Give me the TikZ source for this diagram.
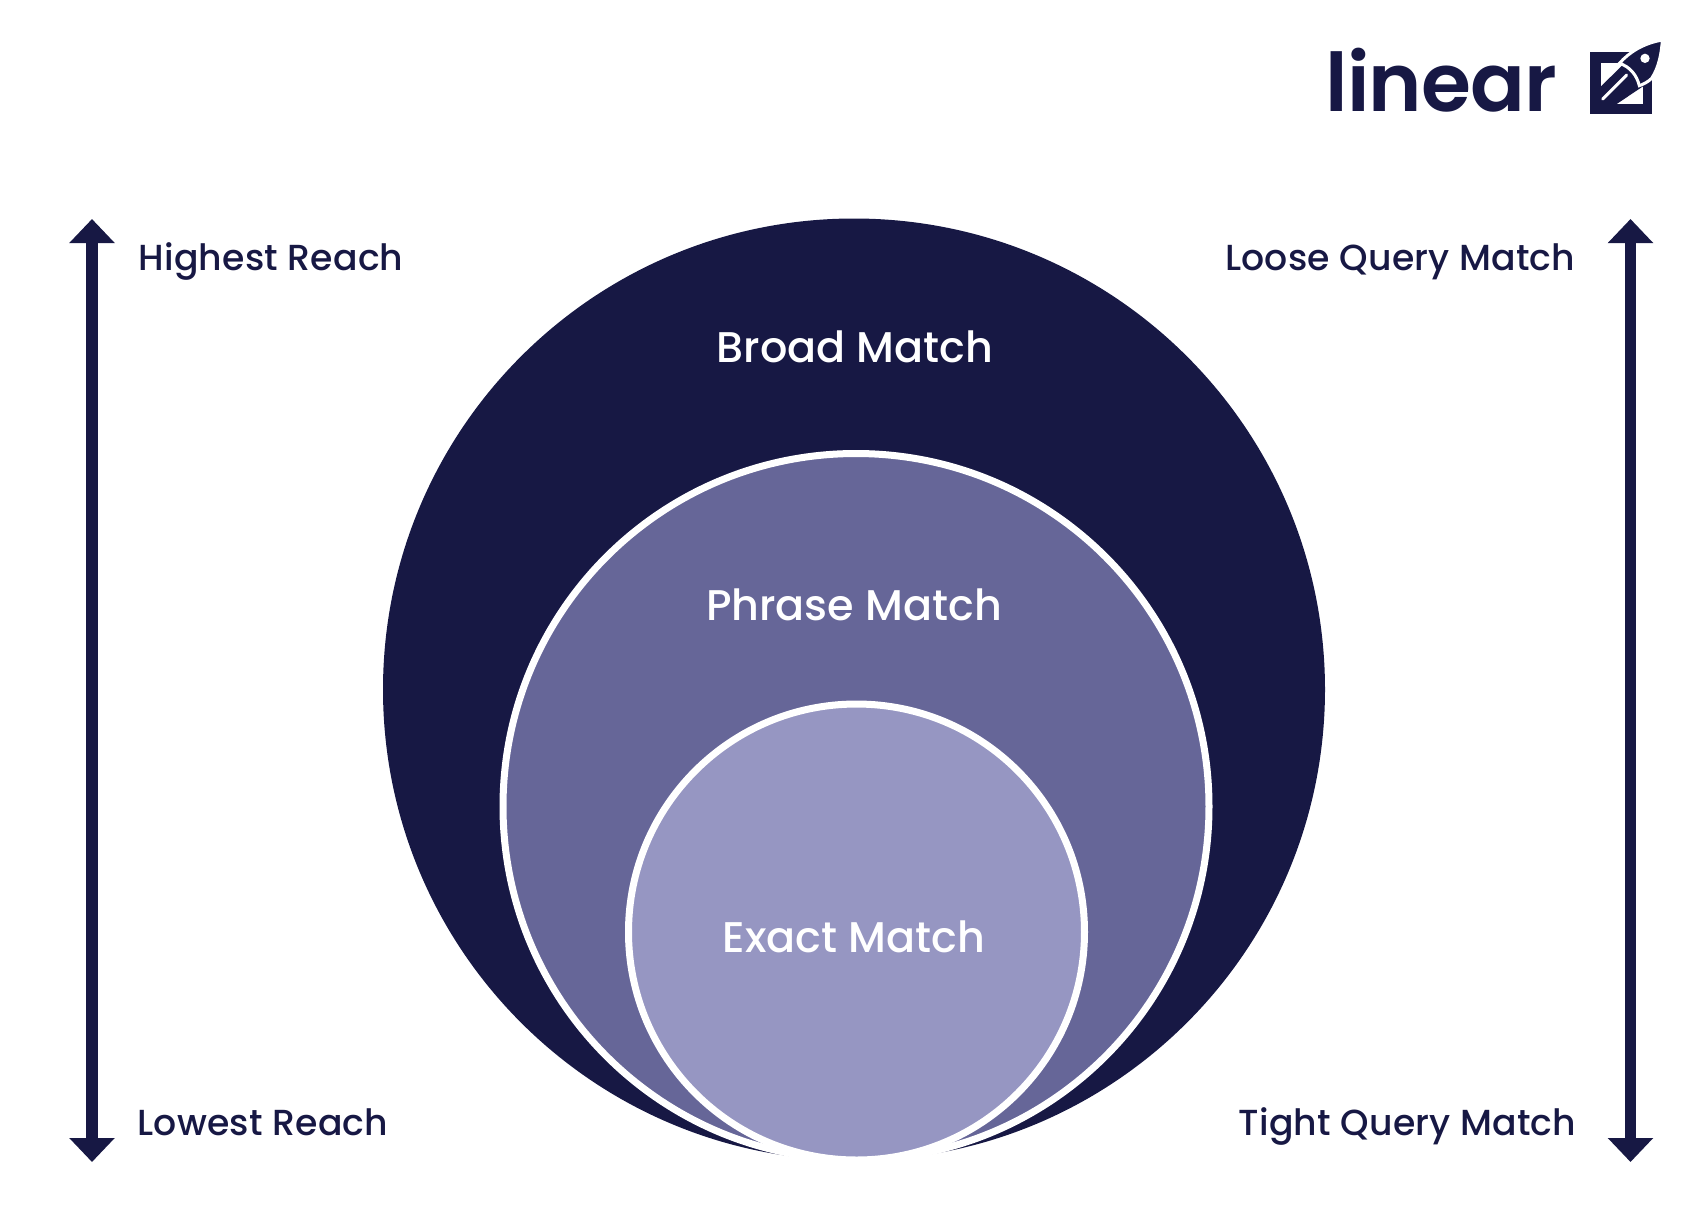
\documentclass[tikz,border=0pt]{standalone}
\usepackage{xcolor}
\usepackage{fontspec}
\setmainfont{Poppins}
\newfontfamily\labelfont[LetterSpace=0.5]{Poppins Medium}
\newfontfamily\matchfont{Poppins Medium}
\newfontfamily\logofont[LetterSpace=-1]{Poppins SemiBold}
\usepackage{tikz}
\usetikzlibrary{arrows.meta}

\definecolor{navy}{HTML}{171844}
\definecolor{midblue}{HTML}{666698}
\definecolor{lightblue}{HTML}{9696C2}

\tikzset{
  sidelabel/.style={text=navy, font=\labelfont\fontsize{10.3}{12}\selectfont, inner sep=0pt},
  matchlabel/.style={text=white, font=\matchfont\fontsize{12.2}{15}\selectfont, inner sep=0pt, anchor=base},
  axisline/.style={navy, line width=0.11cm, {Triangle[width=0.44cm,length=0.24cm]}-{Triangle[width=0.44cm,length=0.24cm]}},
  ringline/.style={color=white, line width=0.07cm}
}

\begin{document}
\begin{tikzpicture}[x=0.01cm,y=-0.01cm]
\useasboundingbox (0,0) rectangle (1708,1220);
% circles
\fill[navy] (854,689.5) circle (471);
\filldraw[ringline, fill=midblue] (856,806.5) circle (353);
\filldraw[ringline, fill=lightblue] (856.5,932) circle (228);
\node (broad) at (855,362) [matchlabel] {Broad Match};
\node (phrase) at (854,620) [matchlabel] {Phrase Match};
\node (exact) at (854,952) [matchlabel] {Exact Match};
% left axis
\coordinate (reachtop) at (92,219);
\coordinate (reachbottom) at (92,1162);
\draw[axisline] (reachtop) -- (reachbottom);
\node (highest) at (138,270) [sidelabel, anchor=base west] {Highest Reach};
\node (lowest) at (137,1135) [sidelabel, anchor=base west] {Lowest Reach};
% right axis
\coordinate (querytop) at (1630.5,219);
\coordinate (querybottom) at (1630.5,1162);
\draw[axisline] (querytop) -- (querybottom);
\node (loose) at (1576,270) [sidelabel, anchor=base east] {Loose Query Match};
\node (tight) at (1577,1135) [sidelabel, anchor=base east] {Tight Query Match};
% logo
\node (logo) at (1558,111) [anchor=base east, inner sep=0pt, text=navy, font=\logofont\fontsize{23}{28}\selectfont] {linear};
\begin{scope}[shift={(1580,35)},scale=1/3]
\fill[navy] (30,52) rectangle (215,238);
\fill[white] (62,83) rectangle (188,207);
\fill[navy] (62,155) -- (130,88) -- (195,150) -- (110,207) -- (62,207) -- cycle;
\draw[white, line width=0.03cm, line cap=round] (68,192) -- (140,120);
\filldraw[ringline, line width=0.03cm, fill=navy] (247,15) .. controls (190,25) and (150,50) .. (118,85)
  .. controls (150,95) and (170,120) .. (178,152)
  .. controls (190,148) and (205,140) .. (215,130)
  .. controls (238,95) and (245,50) .. (247,15) -- cycle;
\fill[white] (195,70) circle (14);
\end{scope}
\end{tikzpicture}
\end{document}
